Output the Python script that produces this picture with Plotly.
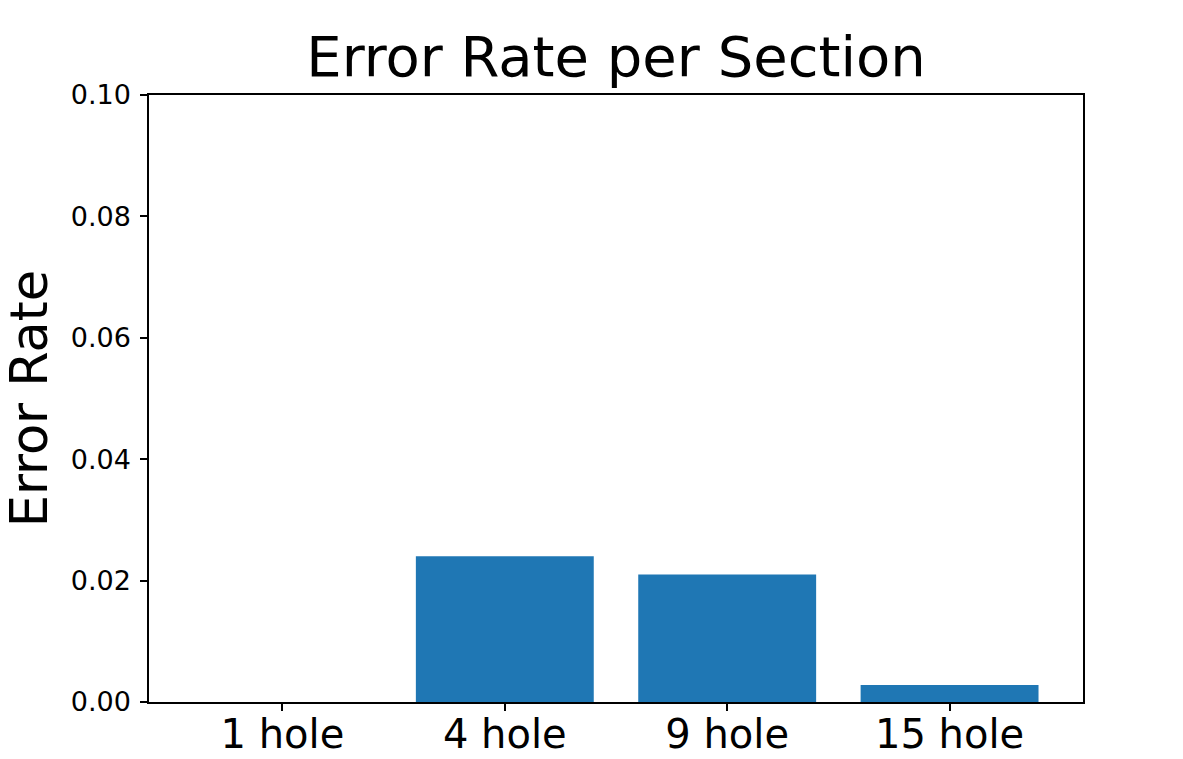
import plotly.graph_objects as go

categories = ["1 hole", "4 hole", "9 hole", "15 hole"]
error_rate = [0.0, 0.024, 0.021, 0.0028]
y_ticks = [0.0, 0.02, 0.04, 0.06, 0.08, 0.10]
y_tick_labels = ["0.00", "0.02", "0.04", "0.06", "0.08", "0.10"]

FONT = "DejaVu Sans"

fig = go.Figure(
    go.Bar(x=categories, y=error_rate, width=0.8, marker=dict(color="#1f77b4", line=dict(width=0)))
)

fig.update_layout(
    width=1183,
    height=759,
    margin=dict(l=149, r=100, t=95, b=57),
    paper_bgcolor="white",
    plot_bgcolor="white",
    showlegend=False,
    font=dict(family=FONT, color="black"),
    title=dict(
        text="Error Rate per Section",
        font=dict(family=FONT, size=56, color="black"),
        x=0.5, xref="paper", xanchor="center",
        y=1, yref="paper", yanchor="bottom",
        pad=dict(b=19),
    ),
)

fig.update_xaxes(
    range=[-0.6, 3.6],
    automargin=False,
    showline=True, linecolor="black", linewidth=1.5, mirror=True,
    ticks="outside", ticklen=7, tickwidth=1.5, tickcolor="black",
    tickfont=dict(family=FONT, size=40, color="black"),
    showgrid=False, zeroline=False,
    ticklabelstandoff=-11,
)

fig.update_yaxes(
    range=[0, 0.1],
    automargin=False,
    tickvals=y_ticks, ticktext=y_tick_labels,
    showline=True, linecolor="black", linewidth=1.5, mirror=True,
    ticks="outside", ticklen=7, tickwidth=1.5, tickcolor="black",
    tickfont=dict(family=FONT, size=27, color="black"),
    showgrid=False, zeroline=False,
    title=dict(text="Error Rate", font=dict(family=FONT, size=51, color="black"), standoff=18),
    ticklabelstandoff=4,
)

fig.write_html("out.html")
